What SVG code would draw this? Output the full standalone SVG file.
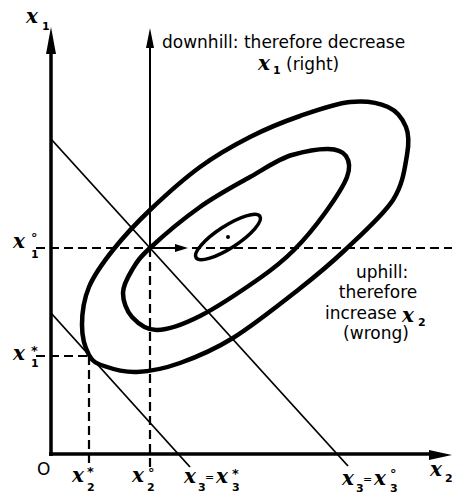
<svg xmlns="http://www.w3.org/2000/svg" width="452" height="497" viewBox="0 0 452 497">
<style>
.ax{stroke:#000;stroke-width:3.5;fill:none}
.ax2{stroke:#000;stroke-width:2;fill:none}
.dash{stroke:#000;stroke-width:2.2;fill:none;stroke-dasharray:9 5}
.diag{stroke:#000;stroke-width:1.8;fill:none}
.cont{stroke:#000;stroke-width:4.5;fill:none}
.w{font-family:"DejaVu Sans",sans-serif;font-size:17px;fill:#000}
.v{font-family:"DejaVu Serif",serif;font-style:italic;font-weight:bold;font-size:20px;fill:#000}
.s{font-family:"DejaVu Sans",sans-serif;font-weight:bold;font-size:11px;fill:#000}
.m{font-family:"DejaVu Sans",sans-serif;font-weight:bold;font-size:13px;fill:#000}
.eq{font-family:"DejaVu Sans",sans-serif;font-size:11px;fill:#000}
</style>
<rect width="452" height="497" fill="#fff"/>
<g id="axes">
<line class="ax" x1="51" y1="456" x2="51" y2="50"/>
<polygon points="51,27 46,54 56,54"/>
<line class="ax" x1="49" y1="454" x2="432" y2="454"/>
<polygon points="452,455 429,450 429,460"/>
<line class="ax2" x1="150" y1="248" x2="150" y2="45"/>
<polygon points="150,28 146,48 154,48"/>
</g>
<g id="guides">
<line class="dash" x1="36" y1="248" x2="150" y2="248"/>
<line class="dash" x1="192" y1="248" x2="452" y2="248"/>
<line class="dash" x1="150" y1="248" x2="150" y2="468"/>
<line class="dash" x1="36" y1="356" x2="89" y2="356"/>
<line class="dash" x1="89" y1="356" x2="89" y2="468"/>
<line class="ax2" x1="150" y1="248" x2="178" y2="248"/>
<polygon points="188,248 175,244 175,252"/>
</g>
<g id="lines">
<line class="diag" x1="51" y1="313" x2="190" y2="467"/>
<line class="diag" x1="51" y1="139" x2="348" y2="466"/>
</g>
<g id="contours">
<path class="cont" d="M82,325 C82,313.7 83.8,299.5 89,287 C94.2,274.5 102.8,262.8 113,250 C123.2,237.2 135.5,223.8 150,210 C164.5,196.2 183.3,179.2 200,167 C216.7,154.8 233.3,145.5 250,137 C266.7,128.5 283.3,121.8 300,116 C316.7,110.2 335.3,103.5 350,102 C364.7,100.5 378.7,102.8 388,107 C397.3,111.2 402.8,119 406,127 C409.2,135 409.2,142.8 407,155 C404.8,167.2 403.3,184.2 393,200 C382.7,215.8 360.8,235 345,250 C329.2,265 316.7,275.3 298,290 C279.3,304.7 252.7,325.8 233,338 C213.3,350.2 196,357.3 180,363 C164,368.7 149.7,371.5 137,372 C124.3,372.5 112,368.8 104,366 C96,363.2 92.7,361.8 89,355 C85.3,348.2 82,336.3 82,325 Z"/>
<path class="cont" stroke-width="4" d="M150,248 C138.7,258.5 136.5,262.5 132,270 C127.5,277.5 123,285.2 123,293 C123,300.8 126.3,310.8 132,317 C137.7,323.2 145.7,330.2 157,330 C168.3,329.8 182.8,324.7 200,316 C217.2,307.3 244.3,289 260,278 C275.7,267 283.2,260.8 294,250 C304.8,239.2 316.2,225.2 325,213 C333.8,200.8 343.5,186.5 347,177 C350.5,167.5 349.2,160.7 346,156 C342.8,151.3 337,149.2 328,149 C319,148.8 305,151.3 292,155 C279,158.7 265.3,168.3 250,177 C234.7,185.7 216.7,195.2 200,207 C183.3,218.8 161.3,237.5 150,248 Z"/>
<ellipse cx="228" cy="237" rx="38" ry="11" transform="rotate(-33 228 237)" fill="none" stroke="#000" stroke-width="3.5"/>
<circle cx="228" cy="237" r="2"/>
</g>
<g id="labels">
<text class="v" x="26" y="23">x</text><text class="s" x="42" y="30">1</text>
<text class="w" x="162" y="48">downhill: therefore decrease</text>
<text class="v" x="258" y="70">x</text><text class="s" x="273" y="74">1</text>
<text class="w" x="286" y="70">(right)</text>
<text class="v" x="13" y="248">x</text><text class="m" x="31" y="242">°</text><text class="s" x="31" y="258">1</text>
<text class="v" x="13" y="360">x</text><text class="m" x="31" y="355">*</text><text class="s" x="31" y="367">1</text>
<text class="w" x="382" y="278" text-anchor="middle">uphill:</text>
<text class="w" x="378" y="298" text-anchor="middle">therefore</text>
<text class="w" x="325" y="319">increase</text><text class="v" x="402" y="322">x</text><text class="s" x="418" y="326">2</text>
<text class="w" x="376" y="339" text-anchor="middle">(wrong)</text>
<text class="w" x="37" y="475">O</text>
<text class="v" x="72" y="482">x</text><text class="m" x="87" y="476">*</text><text class="s" x="87" y="491">2</text>
<text class="v" x="132" y="482">x</text><text class="m" x="148" y="477">°</text><text class="s" x="147" y="491">2</text>
<text class="v" x="184" y="483">x</text><text class="s" x="198" y="491">3</text><text class="eq" x="205" y="481">=</text>
<text class="v" x="216" y="483">x</text><text class="m" x="232" y="478">*</text><text class="s" x="232" y="491">3</text>
<text class="v" x="342" y="485">x</text><text class="s" x="356" y="492">3</text><text class="eq" x="363" y="483">=</text>
<text class="v" x="374" y="485">x</text><text class="m" x="390" y="478">°</text><text class="s" x="390" y="492">3</text>
<text class="v" x="430" y="476">x</text><text class="s" x="445" y="482">2</text>
</g>
</svg>
